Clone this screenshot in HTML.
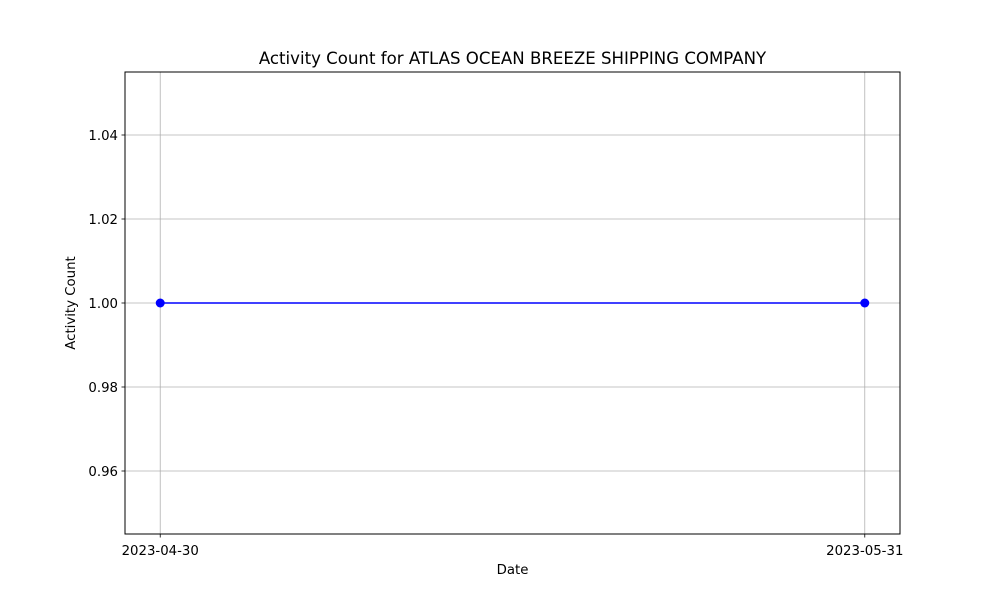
<!DOCTYPE html>
<html><head><meta charset="utf-8"><style>body{margin:0;background:#fff}svg{display:block}text{font-family:"DejaVu Sans","Liberation Sans",sans-serif;fill:#000}</style></head>
<body>
<svg id="chart" width="1000" height="600" xmlns="http://www.w3.org/2000/svg">
<rect width="1000" height="600" fill="#fff"/>
<text x="512.5" y="64" font-size="16.6" text-anchor="middle">Activity Count for ATLAS OCEAN BREEZE SHIPPING COMPANY</text>
<g id="grid"></g><g id="ticks"></g><g id="series"></g>
<rect x="125" y="72" width="775" height="462" fill="none" stroke="#000" stroke-width="1"/>
<text x="512.5" y="574" font-size="13.3" text-anchor="middle">Date</text>
<text x="75" y="303" font-size="13.3" text-anchor="middle" transform="rotate(-90 75 303)">Activity Count</text>
</svg>
<script>
const dates = ["2023-04-30","2023-05-31"];
const counts = [1, 1];
const yTicks = [0.96, 0.98, 1.00, 1.02, 1.04];
const yTickLabels = ["0.96","0.98","1.00","1.02","1.04"];

const NS="http://www.w3.org/2000/svg";
const L=125,R=900,T=72,B=534;
const tms=dates.map(d=>Date.parse(d));
const t0=Math.min(...tms),t1=Math.max(...tms);
const span=(t1-t0)||86400000;
const xmin=t0-span*0.05,xmax=t1+span*0.05;
const xs=t=>L+(t-xmin)/(xmax-xmin)*(R-L);
let vmin=Math.min(...counts),vmax=Math.max(...counts);
let ymin,ymax;
if(vmax===vmin){ymin=vmin-0.055;ymax=vmax+0.055;}else{const p=(vmax-vmin)*0.05;ymin=vmin-p;ymax=vmax+p;}
const ys=v=>B-(v-ymin)/(ymax-ymin)*(B-T);
function mk(tag,attrs,parent){const e=document.createElementNS(NS,tag);for(const k in attrs)e.setAttribute(k,attrs[k]);document.getElementById(parent).appendChild(e);return e;}
yTicks.forEach((v,i)=>{const y=ys(v);
 let g=mk("line",{x1:L,x2:R,y1:y,y2:y,stroke:"#b0b0b0","stroke-width":0.8},"grid");
 
 
 mk("line",{x1:L-3.5,x2:L,y1:y,y2:y,stroke:"#000","stroke-width":0.8},"ticks");
 let t=mk("text",{x:L-7,y:y+5,"font-size":13.3,"text-anchor":"end"},"ticks");t.textContent=yTickLabels[i];
 
 
});
dates.forEach((d,i)=>{const x=xs(tms[i]);
 let g=mk("line",{x1:x,x2:x,y1:T,y2:B,stroke:"#b0b0b0","stroke-width":0.8},"grid");
 
 
 mk("line",{x1:x,x2:x,y1:B,y2:B+3.5,stroke:"#000","stroke-width":0.8},"ticks");
 let t=mk("text",{x:x,y:B+21,"font-size":13.3,"text-anchor":"middle"},"ticks");t.textContent=d;
 
 
});
const pts=counts.map((v,i)=>xs(tms[i])+","+ys(v)).join(" ");
let pl=mk("polyline",{points:pts,fill:"none",stroke:"#0000ff","stroke-width":1.5},"series");


counts.forEach((v,i)=>{let c=mk("circle",{cx:xs(tms[i]),cy:ys(v),r:4.5,fill:"#0000ff"},"series");
 
 
});
</script>
</body></html>
